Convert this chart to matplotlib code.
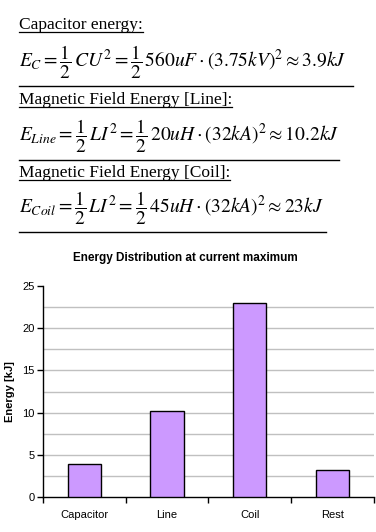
import matplotlib.pyplot as plt
from matplotlib.lines import Line2D
import numpy as np

# data
categories = ['Capacitor', 'Line', 'Coil', 'Rest']
energy_kj = [3.9, 10.15, 23.0, 3.2]

headings = ['Capacitor energy:', 'Magnetic Field Energy [Line]:', 'Magnetic Field Energy [Coil]:']
equations = [
    r'$E_C = \dfrac{1}{2}\,CU^2 = \dfrac{1}{2}\,560uF\cdot(3.75kV)^2 \approx 3.9kJ$',
    r'$E_{Line} = \dfrac{1}{2}\,LI^2 = \dfrac{1}{2}\,20uH\cdot(32kA)^2 \approx 10.2kJ$',
    r'$E_{Coil} = \dfrac{1}{2}\,LI^2 = \dfrac{1}{2}\,45uH\cdot(32kA)^2 \approx 23kJ$',
]

plt.rcParams['mathtext.fontset'] = 'stix'

W, H = 376, 532
fig = plt.figure(figsize=(W / 100, H / 100), dpi=100)

# formula block on top
head_y = [29, 104, 177]
eq_y = [62, 136, 208]
sep = [(86, 353), (160, 339), (232, 326)]
heads = []
for i in range(3):
    t = fig.text(19 / W, 1 - head_y[i] / H, headings[i], family='Liberation Serif',
                 fontsize=12.5, va='baseline', ha='left')
    heads.append(t)
    fig.text(19 / W, 1 - eq_y[i] / H, equations[i], fontsize=14, va='center', ha='left')
    fig.add_artist(Line2D([19 / W, sep[i][1] / W], [1 - sep[i][0] / H] * 2,
                          color='black', lw=1))

fig.canvas.draw()
r = fig.canvas.get_renderer()
for t, hy in zip(heads, head_y):
    bb = t.get_window_extent(r)
    y = 1 - (hy + 3) / H
    fig.add_artist(Line2D([bb.x0 / W, bb.x1 / W], [y, y], color='black', lw=0.9))

# bar chart
ax = fig.add_axes([42.7 / W, (H - 497.3) / H, (374 - 42.7) / W, (497.3 - 285.7) / H])
x = np.arange(len(categories))
ax.bar(x, energy_kj, width=0.4, color='#CC99FF', edgecolor='black', linewidth=1, zorder=3)
ax.set_xlim(-0.5, len(categories) - 0.5)
ax.set_ylim(0, 25)
ax.set_yticks(np.arange(0, 26, 5))
ax.set_yticks(np.arange(2.5, 25, 5), minor=True)
ax.grid(axis='y', which='both', color='#C0C0C0', lw=1, zorder=0)
ax.get_ygridlines()[0].set_visible(False)
ax.get_ygridlines()[-1].set_visible(False)
ax.set_xticks(np.arange(-0.5, len(categories), 1))
ax.set_xticklabels([])
ax.set_xticks(x, minor=True)
ax.set_xticklabels(categories, minor=True)
ax.tick_params(axis='x', which='minor', length=0, pad=9, labelsize=8)
ax.tick_params(axis='x', which='major', length=4, width=1, direction='out')
ax.tick_params(axis='y', which='major', length=4, width=1, labelsize=8, pad=2)
ax.tick_params(axis='y', which='minor', length=0)
for lbl in ax.get_xticklabels(minor=True) + ax.get_yticklabels():
    lbl.set_family('Liberation Sans')
ax.spines['top'].set_visible(False)
ax.spines['right'].set_visible(False)
ax.spines['left'].set_linewidth(1)
ax.spines['bottom'].set_linewidth(1)
fig.text(10 / W, 1 - 391.5 / H, 'Energy [kJ]', family='Liberation Sans', fontsize=8,
         fontweight='bold', rotation=90, ha='center', va='center')
fig.text(185.7 / W, 1 - 258 / H, 'Energy Distribution at current maximum', family='Liberation Sans',
         fontsize=8.5, fontweight='bold', ha='center', va='center')

fig.savefig('out.png', dpi=100)
